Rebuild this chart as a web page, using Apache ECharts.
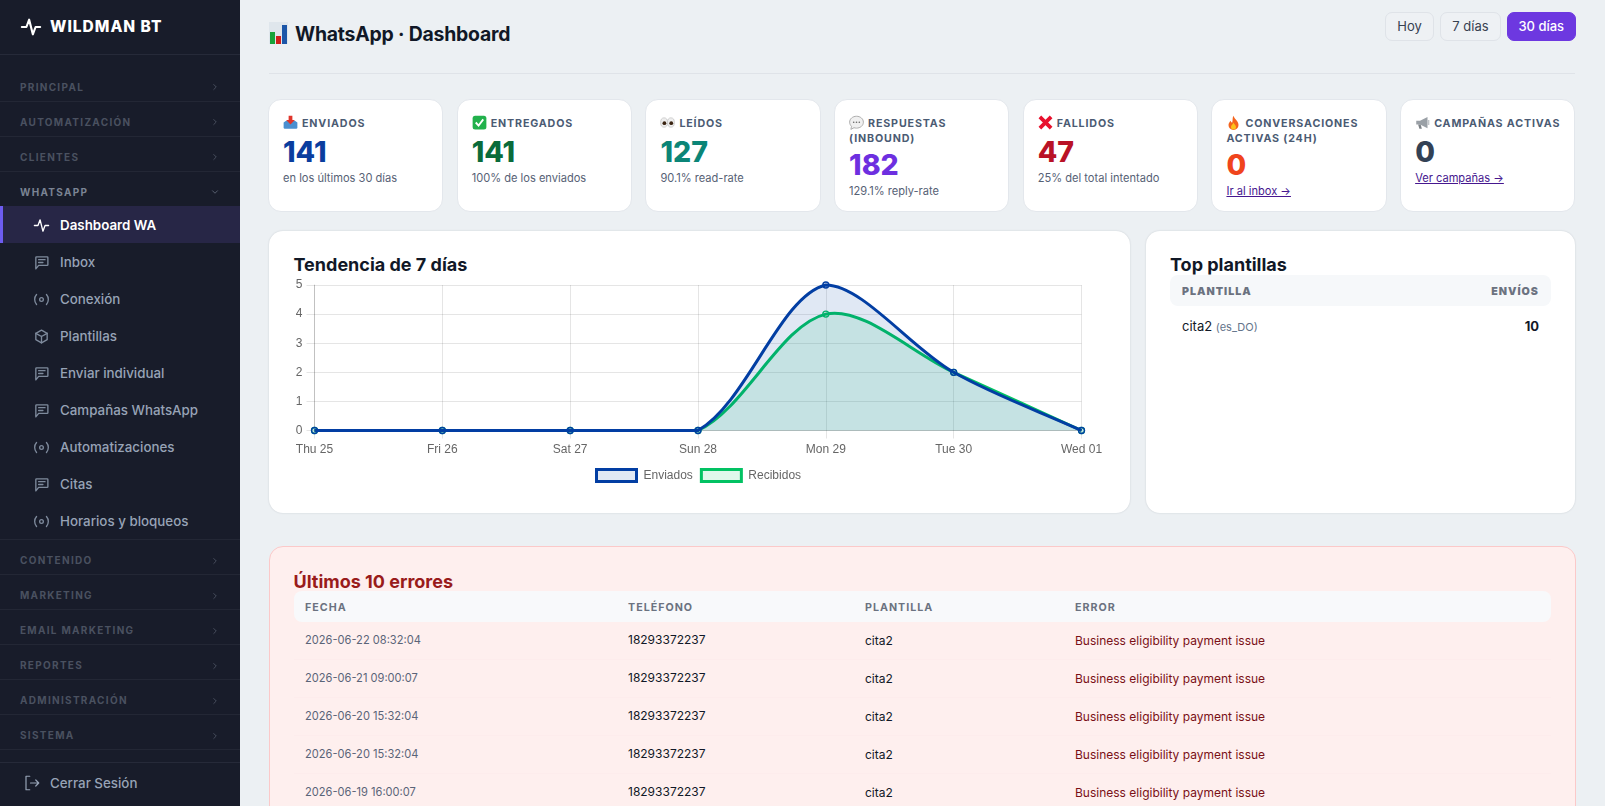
<!DOCTYPE html>
<html lang="es">
<head>
<meta charset="utf-8">
<title>WhatsApp · Dashboard</title>
<script src="https://cdn.jsdelivr.net/npm/echarts@6/dist/echarts.min.js"></script>
<style>
* { box-sizing: border-box; margin: 0; padding: 0; }
html, body { width: 1605px; height: 806px; overflow: hidden; background: #ecf0f3; font-family: Inter, sans-serif; color: #111827; }
svg { display: block; }

/* sidebar */
#side { position: absolute; left: 0; top: 0; width: 240px; height: 806px; background: #181c2a; }
#brand { position: absolute; left: 0; top: 0; width: 240px; height: 55px; border-bottom: 1px solid #262a39; }
#brand svg { position: absolute; left: 20px; top: 16px; }
#brand span { position: absolute; left: 50px; top: 16px; line-height: 21px; font-size: 15.5px; font-weight: 800; letter-spacing: 1px; color: #fff; }
#nav { position: absolute; left: 0; top: 66.5px; width: 240px; }
.sec { position: relative; height: 35px; line-height: 41px; padding-left: 20px; font-size: 10px; font-weight: 700; letter-spacing: 1.3px; color: #4a5160; border-bottom: 1px solid #232735; }
.sec.open { color: #7b8494; height: 34.5px; border-bottom: 0; }
.sec svg { position: absolute; left: 210px; top: 15.5px; }
.item { position: relative; height: 37px; line-height: 38.5px; padding-left: 60px; font-size: 13.35px; font-weight: 500; color: #97a3b6; }
.item svg { position: absolute; left: 33px; top: 10.5px; }
.item.on { background: #272646; color: #fff; font-weight: 600; box-shadow: inset 3px 0 0 #6d5cf0; }
#logout { position: absolute; left: 0; top: 762px; width: 240px; height: 44px; border-top: 1px solid #262a39; }
#logout svg { position: absolute; left: 23px; top: 11px; }
#logout span { position: absolute; left: 50px; top: 9px; line-height: 22px; font-size: 13.35px; font-weight: 500; color: #97a3b6; }

/* header */
#ttlicon { position: absolute; left: 269px; top: 22px; }
h1 { position: absolute; left: 295px; top: 20px; line-height: 28px; font-size: 19.4px; font-weight: 700; letter-spacing: -0.2px; }
.btn { position: absolute; top: 12px; height: 29px; line-height: 27px; text-align: center; font-size: 13px; font-weight: 400; color: #374151; background: #eef1f4; border: 1px solid #dfe3e8; border-radius: 7px; }
.btn.on { background: #6d38e0; border-color: #6d38e0; color: #fff; font-weight: 500; }
#rule { position: absolute; left: 269px; top: 73px; width: 1306px; height: 1px; background: #dfe3e8; }

/* kpi cards */
#cards { position: absolute; left: 268px; top: 98.5px; width: 1307.5px; display: flex; gap: 13.5px; }
.card { width: 175.2px; height: 113px; padding: 15px 4px 0 14px; background: #fff; border: 1px solid #e3e7ec; border-radius: 13px; }
.lab { line-height: 15px; font-size: 10.7px; font-weight: 700; letter-spacing: 0.85px; color: #4b5b73; }
.lab svg { display: inline-block; vertical-align: -3px; margin-right: 4px; }
.val { margin-top: 5px; line-height: 32px; font-size: 28.5px; font-weight: 800; }
.wrap .val { margin-top: 3.3px; }
.sub { margin-top: 3.5px; line-height: 14px; font-size: 11.1px; color: #566175; }
.sub a { color: #46178f; text-decoration: underline; }

/* panels */
.panel { position: absolute; top: 231px; height: 282px; background: #fff; border-radius: 14px; box-shadow: 0 0 2px rgba(15, 23, 42, .16); }
h2 { position: absolute; line-height: 24px; font-size: 18px; font-weight: 700; }
#chart { position: absolute; left: 280px; top: 270px; width: 830px; height: 235px; }
.thead { position: absolute; background: #f6f8fa; border-radius: 8px; font-size: 10.7px; font-weight: 700; letter-spacing: 1px; color: #6b7280; }
#tophead { left: 1170px; top: 275px; width: 381px; height: 31px; line-height: 33px; }
#tophead b { position: absolute; left: 12px; }
#tophead b + b { left: auto; right: 12px; }
#toprow { position: absolute; left: 1182px; top: 316px; width: 357px; line-height: 20px; font-size: 13px; }
#toprow small { font-size: 11px; color: #64748b; }
#toprow strong { position: absolute; right: 0; font-weight: 700; }

/* errores */
#errs { position: absolute; left: 268.5px; top: 546px; width: 1307px; height: 400px; background: #feefee; border: 1px solid #fbc9c9; border-radius: 14px; }
#errhead, .err { display: grid; grid-template-columns: 323px 237px 210px 1fr; padding-left: 11.5px; }
#errhead { left: 293.5px; top: 591px; width: 1257.5px; height: 31px; line-height: 33px; background: #f8f9fb; }
#errrows { position: absolute; left: 293.5px; top: 622px; width: 1257.5px; }
.err { height: 38px; line-height: 37px; font-size: 12px; border-bottom: 1px solid #fdecec; }
.err i { font-style: normal; font-size: 11.1px; color: #5a6478; }
.err u { text-decoration: none; position: relative; top: -1.5px; }
.err em { font-style: normal; color: #7a1016; }
</style>
</head>
<body>
<div id="side">
  <div id="brand"></div>
  <div id="nav"></div>
  <div id="logout"></div>
</div>

<div id="ttlicon"></div>
<h1>WhatsApp · Dashboard</h1>
<div class="btn" style="left:1385px;width:49px">Hoy</div>
<div class="btn" style="left:1440px;width:61px">7 días</div>
<div class="btn on" style="left:1507px;width:68.500px">30 días</div>
<div id="rule"></div>

<div id="cards"></div>

<div class="panel" style="left:269px;width:861px"></div>
<h2 style="left:293.500px;top:253px">Tendencia de 7 días</h2>
<div id="chart"></div>

<div class="panel" style="left:1146px;width:429px"></div>
<h2 style="left:1170px;top:253px">Top plantillas</h2>
<div class="thead" id="tophead"><b>PLANTILLA</b><b>ENVÍOS</b></div>
<div id="toprow">cita2 <small>(es_DO)</small><strong>10</strong></div>

<div id="errs"></div>
<h2 style="left:293.500px;top:570px;color:#991b1b">Últimos 10 errores</h2>
<div class="thead" id="errhead"><span>FECHA</span><span>TELÉFONO</span><span>PLANTILLA</span><span>ERROR</span></div>
<div id="errrows"></div>

<script>
// datos del grafico
var days = ['Thu 25', 'Fri 26', 'Sat 27', 'Sun 28', 'Mon 29', 'Tue 30', 'Wed 01'];
var enviados = [0, 0, 0, 0, 5, 2, 0];
var recibidos = [0, 0, 0, 0, 4, 2, 0];
var yTicks = [0, 1, 2, 3, 4, 5];

// textos del menu
var secsTop = ['PRINCIPAL', 'AUTOMATIZACIÓN', 'CLIENTES'];
var secsBottom = ['CONTENIDO', 'MARKETING', 'EMAIL MARKETING', 'REPORTES', 'ADMINISTRACIÓN', 'SISTEMA'];
var items = [['Dashboard WA', 'pulse'], ['Inbox', 'chat'], ['Conexión', 'radio'], ['Plantillas', 'box'], ['Enviar individual', 'chat'],
    ['Campañas WhatsApp', 'chat'], ['Automatizaciones', 'radio'], ['Citas', 'chat'], ['Horarios y bloqueos', 'radio']];

// tarjetas
var kpiNames = ['ENVIADOS', 'ENTREGADOS', 'LEÍDOS', 'RESPUESTAS (INBOUND)', 'FALLIDOS', 'CONVERSACIONES ACTIVAS (24H)', 'CAMPAÑAS ACTIVAS'];
var kpiIcons = ['inbox', 'check', 'eyes', 'bubble', 'cross', 'fire', 'mega'];
var kpiValues = [141, 141, 127, 182, 47, 0, 0];
var kpiColors = ['#0a3d9e', '#0a6b3a', '#0b8577', '#6d2fe0', '#b91226', '#f0441c', '#334155'];
var kpiSubs = ['en los últimos 30 días', '100% de los enviados', '90.1% read-rate', '129.1% reply-rate', '25% del total intentado', '<a>Ir al inbox →</a>', '<a>Ver campañas →</a>'];

var errDates = ['2026-06-22 08:32:04', '2026-06-21 09:00:07', '2026-06-20 15:32:04', '2026-06-20 15:32:04', '2026-06-19 16:00:07'];
var errPhone = '18293372237';
var errTemplate = 'cita2';
var errText = 'Business eligibility payment issue';

function line(size, color, sw, body) {
    return '<svg width="' + size + '" height="' + size + '" viewBox="0 0 24 24" fill="none" stroke="' + color + '" stroke-width="' + sw + '" stroke-linecap="round" stroke-linejoin="round">' + body + '</svg>';
}
var shapes = {
    pulse: '<path d="M2 12h5l3-8 4 16 3-8h5"/>',
    chat: '<path d="M4 21V5a1 1 0 0 1 1-1h15a1 1 0 0 1 1 1v10a1 1 0 0 1-1 1H8z"/><path d="M8 8h9M8 12h6"/>',
    radio: '<circle cx="12" cy="12" r="2.600"/><path d="M5 5c-3.500 4-3.500 10 0 14M19 5c3.500 4 3.500 10 0 14"/>',
    box: '<path d="M12 3l8 4.500v9L12 21l-8-4.500v-9z"/><path d="M4 7.500l8 4.500 8-4.500M12 12v9"/>',
    right: '<path d="M9 6l6 6-6 6"/>',
    down: '<path d="M6 9l6 6 6-6"/>',
    logout: '<path d="M9 3H4v18h5M10 12h11M17 8l4 4-4 4"/>'
};
function emoji(name) {
    var body = {
        inbox: '<path d="M1 12l4-3h14l4 3v8a2 2 0 0 1-2 2H3a2 2 0 0 1-2-2z" fill="#4a8fd0"/><path d="M9 1h6v7h4l-7 7-7-7h4z" fill="#e0352b"/>',
        check: '<rect x="1" y="1" width="22" height="22" rx="4" fill="#22b14c"/><path d="M6 12l4.500 5L18 7" fill="none" stroke="#fff" stroke-width="3"/>',
        eyes: '<ellipse cx="6.500" cy="12" rx="5.500" ry="7.500" fill="#eee" stroke="#bbb"/><ellipse cx="17.500" cy="12" rx="5.500" ry="7.500" fill="#eee" stroke="#bbb"/><circle cx="7" cy="13" r="3" fill="#3a2412"/><circle cx="18" cy="13" r="3" fill="#3a2412"/>',
        bubble: '<path d="M12 2c6 0 11 4 11 9.500S18 21 12 21c-1.500 0-3-.3-4-.7L3 23l1-5c-2-1.800-3-4-3-6.500C1 6 6 2 12 2z" fill="#f0f0f0" stroke="#a9a9a9" stroke-width="1.500"/><circle cx="7.500" cy="11.500" r="1.300" fill="#666"/><circle cx="12" cy="11.500" r="1.300" fill="#666"/><circle cx="16.500" cy="11.500" r="1.300" fill="#666"/>',
        cross: '<path d="M3 3l18 18M21 3L3 21" stroke="#e8112d" stroke-width="6"/>',
        fire: '<path d="M12 1c1 5 8 8 8 15a8 8 0 0 1-16 0c0-3 2-5 3-7 1 2 2 3 3 3 1-4 0-8 2-11z" fill="#f4641e"/><path d="M12 12c1 3 4 4 4 7a4 4 0 0 1-8 0c0-3 3-4 4-7z" fill="#fcc21b"/>',
        mega: '<path d="M2 9h6l12-6v18L8 15H2z" fill="#9aa0a6"/><path d="M5 15h4l2 7H7z" fill="#7d8287"/><rect x="20" y="8" width="3" height="8" fill="#c2c6ca"/>'
    }[name];
    return '<svg width="15" height="15" viewBox="0 0 24 24" preserveAspectRatio="none">' + body + '</svg>';
}

// menu lateral
document.getElementById('brand').innerHTML = line(22, '#fff', 2.3, shapes.pulse) + '<span>WILDMAN BT</span>';
function secRow(name, open) {
    return '<div class="sec' + (open ? ' open' : '') + '">' + name + line(10, open ? '#5d6575' : '#4a5160', 2.2, open ? shapes.down : shapes.right) + '</div>';
}
var nav = '';
secsTop.forEach(function(s) { nav += secRow(s, false); });
nav += secRow('WHATSAPP', true);
items.forEach(function(it, i) {
    nav += '<div class="item' + (i === 0 ? ' on' : '') + '">' + line(17, i === 0 ? '#fff' : '#7e8a9c', 1.9, shapes[it[1]]) + it[0] + '</div>';
});
nav += '<div style="height:0;border-top:1px solid #232735"></div>';
secsBottom.forEach(function(s) { nav += secRow(s, false); });
document.getElementById('nav').innerHTML = nav;
document.getElementById('logout').innerHTML = line(18, '#97a3b6', 1.6, shapes.logout) + '<span>Cerrar Sesión</span>';

document.getElementById('ttlicon').innerHTML = '<svg width="19" height="22" viewBox="0 0 19 22"><rect width="19" height="22" fill="#dfe6ec"/><rect x="1" y="10" width="5" height="12" fill="#18a33a"/><rect x="7" y="14" width="5" height="8" fill="#d0201c"/><rect x="13" y="3" width="5" height="19" fill="#1c56a8"/></svg>';

var cards = document.getElementById('cards');
kpiNames.forEach(function(name, i) {
    var c = document.createElement('div');
    c.className = 'card';
    c.innerHTML = '<div class="lab">' + emoji(kpiIcons[i]) + name + '</div>' +
        '<div class="val" style="color:' + kpiColors[i] + '">' + kpiValues[i] + '</div>' +
        '<div class="sub">' + kpiSubs[i] + '</div>';
    cards.appendChild(c);
    if (c.querySelector('.lab').offsetHeight > 20) {
        c.classList.add('wrap');
    }
});

// tabla de errores
var rows = '';
errDates.forEach(function(d) {
    rows += '<div class="err"><i>' + d + '</i><u>' + errPhone + '</u><span>' + errTemplate + '</span><em>' + errText + '</em></div>';
});
document.getElementById('errrows').innerHTML = rows;

// tendencia: la curva original sale con otra regla de suavizado, asi que se traza sobre api.coord
var gridLine = 'rgba(0,0,0,0.1)';
var blue = '#023ea3';
var green = '#02c263';
var tension = 0.32;

function controlPoints(pts, area) {
    return pts.map(function(cur, i) {
        var prev = pts[Math.max(i - 1, 0)];
        var next = pts[Math.min(i + 1, pts.length - 1)];
        var d01 = Math.hypot(cur[0] - prev[0], cur[1] - prev[1]);
        var d12 = Math.hypot(next[0] - cur[0], next[1] - cur[1]);
        var fa = tension * d01 / (d01 + d12);
        var fb = tension * d12 / (d01 + d12);
        var vx = next[0] - prev[0];
        var vy = next[1] - prev[1];
        function cap(x, y) {
            return [Math.min(Math.max(x, area.x), area.x + area.width), Math.min(Math.max(y, area.y), area.y + area.height)];
        }
        return { before: cap(cur[0] - fa * vx, cur[1] - fa * vy), after: cap(cur[0] + fb * vx, cur[1] + fb * vy) };
    });
}

function trendSeries(name, values, color, fill) {
    return {
        name: name,
        type: 'custom',
        coordinateSystem: 'cartesian2d',
        clip: false,
        silent: true,
        encode: { x: 0, y: 1 },
        data: values.map(function(v, i) { return [i, v]; }),
        renderItem: function(params, api) {
            var i = params.dataIndex;
            var dot = api.coord([i, values[i]]);
            var children = [];
            if (i === 0) {
                var pts = values.map(function(v, k) { return api.coord([k, v]); });
                var cps = controlPoints(pts, params.coordSys);
                var base = api.coord([0, 0])[1];
                var d = 'M' + pts[0].join(' ');
                for (var k = 1; k < pts.length; k++) {
                    d += 'C' + cps[k - 1].after.join(' ') + ' ' + cps[k].before.join(' ') + ' ' + pts[k].join(' ');
                }
                children.push({
                    type: 'path',
                    shape: { pathData: d + 'L' + pts[pts.length - 1][0] + ' ' + base + 'L' + pts[0][0] + ' ' + base + 'Z' },
                    style: { fill: fill, stroke: null }
                });
                children.push({
                    type: 'path',
                    shape: { pathData: d },
                    style: { fill: null, stroke: color, lineWidth: 3 }
                });
            }
            children.push({
                type: 'circle',
                shape: { cx: dot[0], cy: dot[1], r: 3 },
                style: { fill: fill, stroke: color, lineWidth: 1.3 }
            });
            return { type: 'group', children: children };
        }
    };
}

var chart = echarts.init(document.getElementById('chart'));
chart.setOption({
    animation: false,
    textStyle: { fontFamily: '"Liberation Sans", Arial, sans-serif' },
    grid: { left: 34.5, right: 28.5, top: 15, bottom: 74.5 },
    legend: {
        left: 310,
        top: 193,
        itemWidth: 40,
        itemHeight: 12,
        itemGap: 7,
        selectedMode: false,
        textStyle: { color: '#666', fontSize: 12, padding: [0, 0, 0, 2] },
        data: [
            { name: 'Enviados', icon: 'rect', itemStyle: { color: 'rgba(2,62,163,0.12)', borderColor: blue, borderWidth: 3 } },
            { name: 'Recibidos', icon: 'rect', itemStyle: { color: 'rgba(2,194,99,0.12)', borderColor: green, borderWidth: 3 } }
        ]
    },
    xAxis: {
        type: 'category',
        boundaryGap: false,
        data: days,
        axisLine: { lineStyle: { color: 'rgba(0,0,0,0.16)' } },
        axisTick: { length: 8, lineStyle: { color: gridLine } },
        axisLabel: { color: '#666', fontSize: 12, margin: 13, interval: 0 },
        splitLine: { show: true, lineStyle: { color: gridLine } }
    },
    yAxis: {
        type: 'value',
        min: yTicks[0],
        max: yTicks[yTicks.length - 1],
        interval: 1,
        axisLine: { show: true, lineStyle: { color: 'rgba(0,0,0,0.16)' } },
        axisTick: { show: true, length: 8, lineStyle: { color: gridLine } },
        axisLabel: { color: '#666', fontSize: 12, margin: 12 },
        splitLine: { lineStyle: { color: gridLine } }
    },
    series: [
        trendSeries('Recibidos', recibidos, green, 'rgba(2,194,99,0.12)'),
        trendSeries('Enviados', enviados, blue, 'rgba(2,62,163,0.12)')
    ]
});
</script>
</body>
</html>
